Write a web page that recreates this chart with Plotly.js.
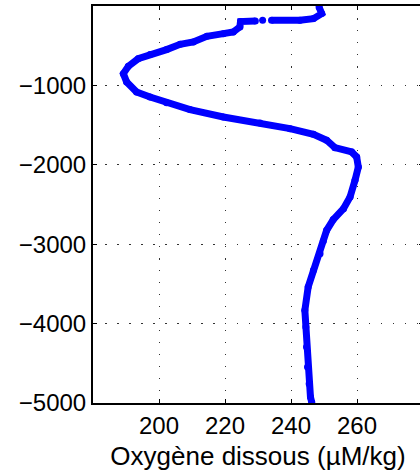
<!DOCTYPE html>
<html>
<head>
<meta charset="utf-8">
<script src="https://cdn.plot.ly/plotly-3.0.1.min.js"></script>
<style>
html,body{margin:0;padding:0;overflow:hidden;background:#fff;}
#chart{width:430px;height:473px;}
</style>
</head>
<body>
<div id="chart"></div>
<script>
// Dissolved oxygen (µM/kg) vs depth (m)
var oxygen = [248.5, 249.3, 246.8, 242.7, 234.1, null, 231.4, null, 229.2, 224.7, 224.5, 222.5, 219.5, 214.5, 210.4, 206.4, 202.3, 197.3, 193.7, 190.7, 189.2, 190.2, 193.2, 197.3, 202.3, 209.4, 219.5, 230.6, 239.7, 246.8, 250.8, 253.3, 258.4, 259.9, 260.4, 259.4, 257.9, 255.9, 252.8, 250.8, 249.8, 248.8, 246.8, 245.2, 244.2, 244.5, 244.7, 245.0, 245.5, 245.9, 246.3];
var depth = [-13, -96, -159, -180, -180, null, -180, null, -190, -196, -264, -327, -348, -382, -453, -482, -549, -612, -663, -760, -852, -957, -1083, -1146, -1220, -1305, -1398, -1473, -1545, -1616, -1690, -1784, -1838, -1902, -2028, -2195, -2405, -2552, -2690, -2825, -2960, -3119, -3329, -3539, -3832, -4043, -4295, -4547, -4756, -4924, -4995];
var xTicks = [200, 220, 240, 260];
var yTicks = [-5000, -4000, -3000, -2000, -1000];
var xLabel = 'Oxygène dissous (µM/kg)';

var trace = {
  x: oxygen, y: depth, type: 'scatter', mode: 'lines+markers',
  connectgaps: false,
  line: {color: '#0000ff', width: 7},
  marker: {color: '#0000ff', size: 7},
  hoverinfo: 'skip'
};
var fam = '"Liberation Sans", Arial, Helvetica, sans-serif';
var fnt = {family: fam, size: 24, color: '#000'};
var layout = {
  width: 430, height: 473,
  margin: {l: 93, r: 7, t: 6, b: 70},
  paper_bgcolor: '#fff', plot_bgcolor: '#fff',
  showlegend: false,
  font: fnt,
  xaxis: {
    range: [180, 280], tickvals: xTicks, ticktext: xTicks.map(String),
    showgrid: true, gridcolor: '#333', gridwidth: 1, griddash: '1.5px,10.5px',
    zeroline: false, showline: true, linecolor: '#000', linewidth: 2, mirror: 'ticks',
    ticks: 'inside', ticklen: 4, tickwidth: 1, tickcolor: '#000',
    tickfont: fnt,
    title: {text: xLabel, font: {family: fam, size: 26, color: '#000'}, standoff: 9},
    automargin: false
  },
  yaxis: {
    range: [-5000, 0], tickvals: yTicks,
    showgrid: true, gridcolor: '#333', gridwidth: 1, griddash: '1.5px,10.5px',
    zeroline: false, showline: true, linecolor: '#000', linewidth: 2, mirror: 'ticks',
    ticks: 'inside', ticklen: 4, tickwidth: 1, tickcolor: '#000',
    tickfont: fnt, automargin: false
  }
};
Plotly.newPlot('chart', [trace], layout, {displayModeBar: false, staticPlot: true});
</script>
</body>
</html>
